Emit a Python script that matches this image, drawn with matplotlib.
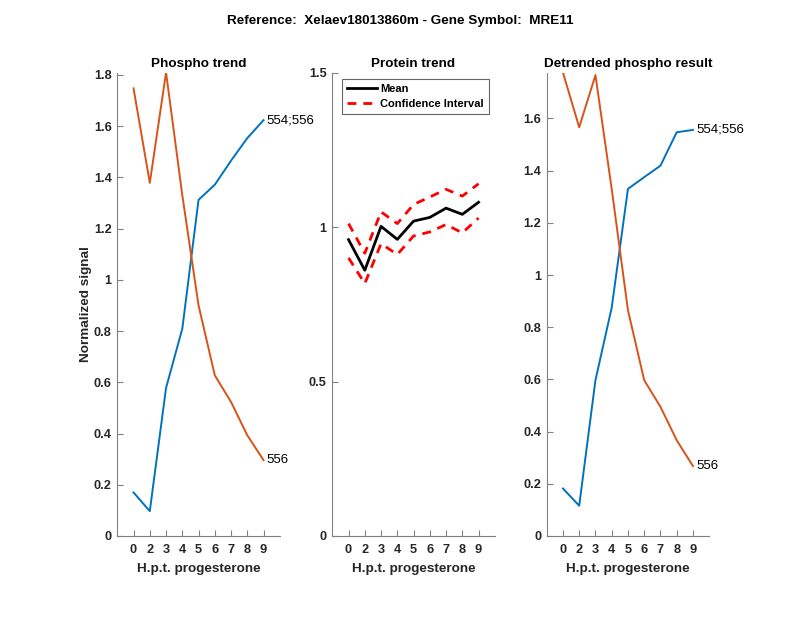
import matplotlib
matplotlib.use("Agg")
import matplotlib.pyplot as plt
from matplotlib.ticker import FuncFormatter

plt.rcParams['font.family'] = ['Liberation Sans', 'DejaVu Sans']

time_labels = ['0', '2', '3', '4', '5', '6', '7', '8', '9']

phospho_554_556 = [0.170, 0.097, 0.578, 0.809, 1.312, 1.371, 1.465, 1.553, 1.623]
phospho_556 = [1.747, 1.378, 1.809, 1.33, 0.90, 0.627, 0.523, 0.393, 0.296]

protein_mean = [0.959, 0.860, 1.002, 0.960, 1.019, 1.031, 1.061, 1.041, 1.080]
protein_upper = [1.011, 0.915, 1.049, 1.011, 1.073, 1.097, 1.122, 1.100, 1.140]
protein_lower = [0.900, 0.817, 0.946, 0.911, 0.971, 0.984, 1.008, 0.981, 1.029]

detr_554_556 = [0.182, 0.116, 0.597, 0.875, 1.330, 1.375, 1.419, 1.547, 1.556]
detr_556 = [1.776, 1.566, 1.766, 1.33, 0.865, 0.597, 0.495, 0.367, 0.268]

series_labels = ['554;556', '556']

BLUE = '#0072BD'
ORANGE = '#D95319'
AXC = '#262626'
LBL = 9.7

fig = plt.figure(figsize=(8, 6.18), dpi=100)
fig.text(0.5, 0.966, 'Reference:  Xelaev18013860m - Gene Symbol:  MRE11',
         ha='center', va='center', fontsize=LBL, fontweight='bold')

bottom = 1 - 536 / 618
height = (536 - 72.5) / 618
lefts = [117.3 / 800, 332.3 / 800, 546.7 / 800]
width = 162.5 / 800

x = list(range(1, len(time_labels) + 1))
fmt = FuncFormatter(lambda v, p: ('%g' % round(v, 6)))


def style(ax):
    for s in ['top', 'right']:
        ax.spines[s].set_visible(False)
    for s in ['left', 'bottom']:
        ax.spines[s].set_color('#808080')
        ax.spines[s].set_linewidth(0.8)
    ax.tick_params(direction='in', length=4, width=0.8, color='#808080',
                   labelsize=9.2, labelcolor=AXC, pad=4)
    ax.tick_params(axis='x', pad=5.5)
    for lab in ax.get_xticklabels() + ax.get_yticklabels():
        lab.set_fontweight('bold')
    ax.set_xlim(0, 10)
    ax.set_xticks(x)
    ax.set_xticklabels(time_labels, fontweight='bold')
    ax.yaxis.set_major_formatter(fmt)
    ax.set_xlabel('H.p.t. progesterone', fontsize=LBL, fontweight='bold', color=AXC, labelpad=5)


# Left
ax1 = fig.add_axes([lefts[0], bottom, width, height])
ax1.plot(x, phospho_554_556, color=BLUE, lw=1.4)
ax1.plot(x, phospho_556, color=ORANGE, lw=1.4)
ax1.set_ylim(0, max(phospho_556))
ax1.set_yticks([0, 0.2, 0.4, 0.6, 0.8, 1, 1.2, 1.4, 1.6, 1.8])
ax1.text(x[-1] + 0.2, phospho_554_556[-1], series_labels[0], fontsize=9.5, va='center', ha='left')
ax1.text(x[-1] + 0.2, phospho_556[-1], series_labels[1], fontsize=9.5, va='center', ha='left')
ax1.set_title('Phospho trend', fontsize=LBL, fontweight='bold', pad=4)
ax1.set_ylabel('Normalized signal', fontsize=LBL, fontweight='bold', color=AXC, labelpad=1)
style(ax1)

# Middle
ax2 = fig.add_axes([lefts[1], bottom, width, height])
ax2.plot(x, protein_mean, color='black', lw=2, label='Mean')
ax2.plot(x, protein_upper, color='red', lw=2, ls=(0, (3.2, 2.5)), label='Confidence Interval')
ax2.plot(x, protein_lower, color='red', lw=2, ls=(0, (3.2, 2.5)))
ax2.set_ylim(0, 1.5)
ax2.set_yticks([0, 0.5, 1, 1.5])
ax2.set_title('Protein trend', fontsize=LBL, fontweight='bold', pad=4)
leg = ax2.legend(loc='upper right', prop={'size': 8, 'weight': 'bold'}, frameon=True,
                 fancybox=False, edgecolor='#404040', borderpad=0.45, handlelength=2.7,
                 labelspacing=0.45, borderaxespad=0.55, handletextpad=0.3)
leg.get_frame().set_linewidth(0.8)
style(ax2)

# Right
ax3 = fig.add_axes([lefts[2], bottom, width, height])
ax3.plot(x, detr_554_556, color=BLUE, lw=1.4)
ax3.plot(x, detr_556, color=ORANGE, lw=1.4)
ax3.set_ylim(0, max(detr_556))
ax3.set_yticks([0, 0.2, 0.4, 0.6, 0.8, 1, 1.2, 1.4, 1.6])
ax3.text(x[-1] + 0.2, detr_554_556[-1], series_labels[0], fontsize=9.5, va='center', ha='left')
ax3.text(x[-1] + 0.2, detr_556[-1], series_labels[1], fontsize=9.5, va='center', ha='left')
ax3.set_title('Detrended phospho result', fontsize=LBL, fontweight='bold', pad=4)
style(ax3)

fig.savefig('out.png', dpi=100)
